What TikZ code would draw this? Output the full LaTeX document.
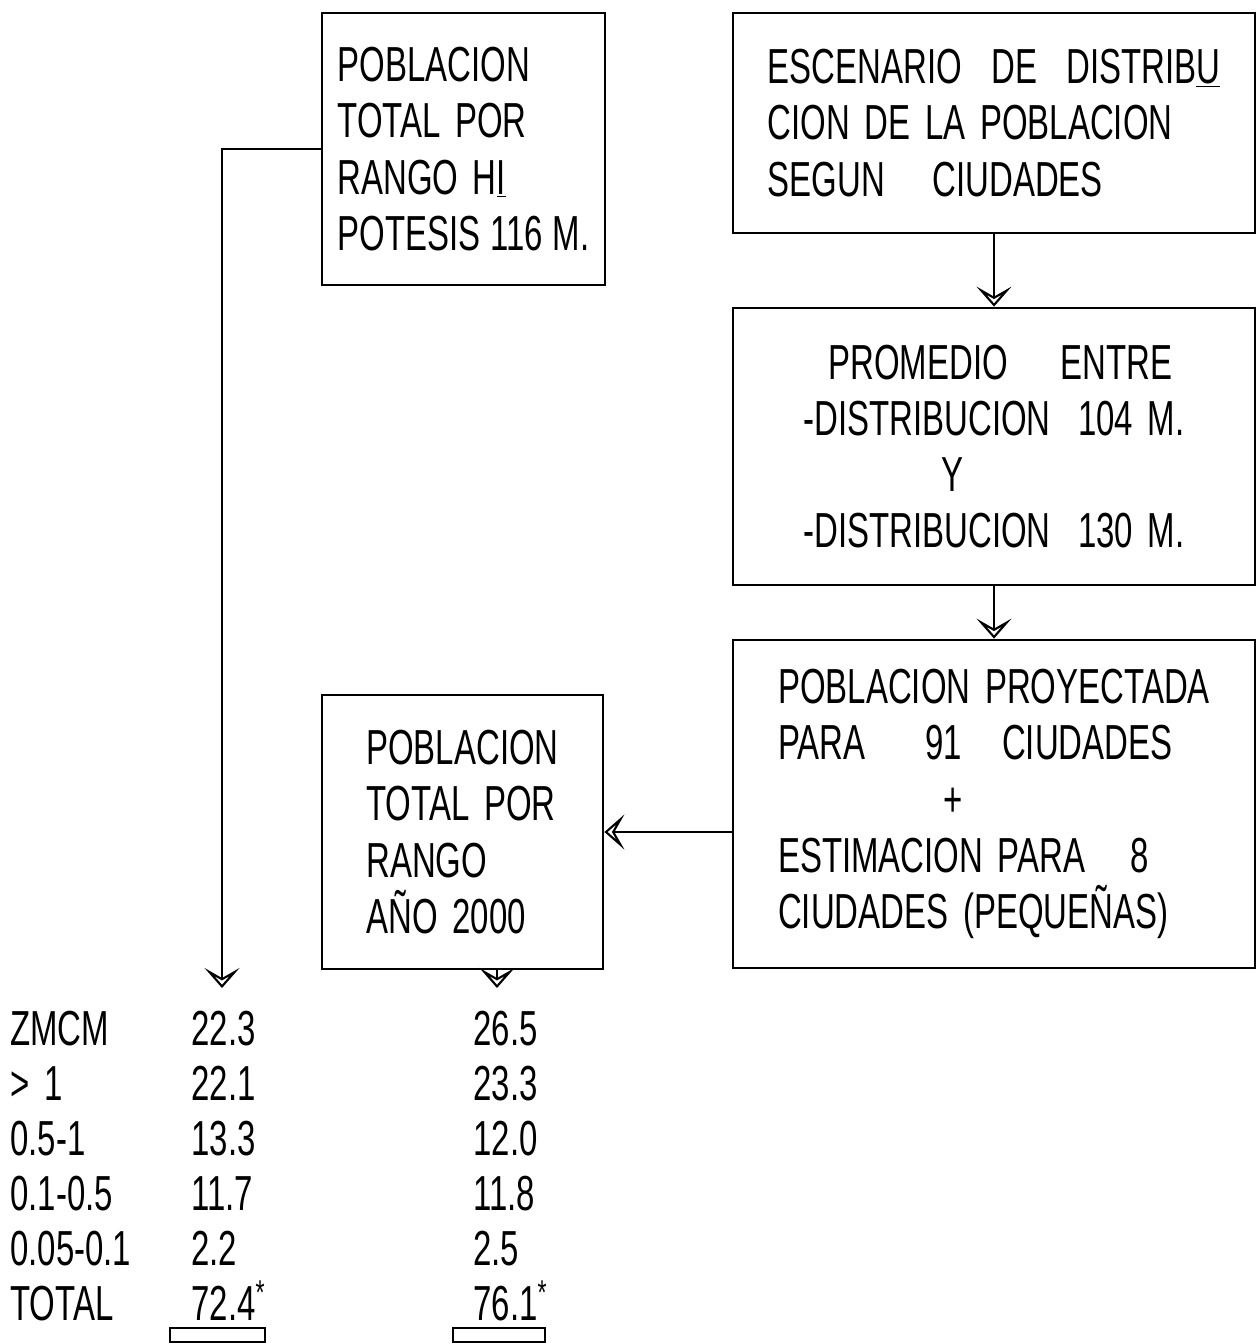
\documentclass[tikz,border=0pt]{standalone}
\usepackage{fontspec}
\setmainfont{Liberation Sans}[FakeStretch=0.67, WordSpace=1.6]
\usetikzlibrary{arrows.meta, positioning, calc}
\tikzset{
    % Boxes
    block/.style={
        rectangle,
        draw=black,
        line width=1.6pt,
        align=left,
        inner sep=0pt,
        font=\fontsize{28pt}{32pt}\selectfont
    },
    % Arrows
    flow/.style={
        -{Stealth[open, length=0.4cm, width=0.7cm, inset=0.2cm, line width=1.2pt]},
        line width=1.3pt,
        draw=black
    },
    % Table
    cell/.style={
        anchor=base west,
        inner sep=0pt,
        font=\fontsize{28pt}{32pt}\selectfont
    }
}
\begin{document}
\begin{tikzpicture}[x=0.02cm, y=-0.02cm]
    \useasboundingbox[fill=white] (0,0) rectangle (1257,1344);

    % Boxes
    \node[block, minimum width=5.66cm, minimum height=5.44cm] (hip) at (463.5,149) {POBLACION\\TOTAL POR\\RANGO H\underline{I}\\POTESIS\hspace{0.2cm}116\hspace{0.2cm}M.};
    \node[block, minimum width=10.44cm, minimum height=4.4cm] (esc) at (994,123) {ESCENARIO\ \ DE\ \ DISTRIB\underline{U}\\CION DE LA POBLACION\\SEGUN\hspace{0.95cm}CIUDADES};
    \node[block, minimum width=10.44cm, minimum height=5.54cm] (prom) at (994,446.5) {\hspace*{0.5cm}PROMEDIO\hspace{1.05cm}ENTRE\\-DISTRIBUCION\hspace{0.55cm}104 M.\\\hspace*{2.75cm}Y\\-DISTRIBUCION\hspace{0.55cm}130 M.};
    \node[block, minimum width=10.44cm, minimum height=6.56cm] (proy) at (994,804) {POBLACION PROYECTADA\\PARA\hspace{1.2cm}91\hspace{0.8cm}CIUDADES\\\hspace*{3.3cm}+\\ESTIMACION PARA\hspace{0.9cm}8\\CIUDADES (PEQUEÑAS)};
    \node[block, minimum width=5.62cm, minimum height=5.48cm] (anio) at (462.5,832) {POBLACION\\TOTAL POR\\RANGO\\AÑO 2000};

    % Arrow ends above the table
    \coordinate (hipend) at (222,988);
    \coordinate (anioend) at (497,988);

    % Arrows
    \draw[flow] (hip.west) -| (hipend);
    \draw[flow] (esc.south) -- (prom.north);
    \draw[flow] (prom.south) -- (proy.north);
    \draw[flow] (proy.west |- anio.east) -- (anio.east);
    \draw[flow] (anio.south -| anioend) -- (anioend);

    % Table
    \foreach \lab/\hval/\aval [count=\i] in {ZMCM/22.3/26.5, {> 1}/22.1/23.3, 0.5-1/13.3/12.0, 0.1-0.5/11.7/11.8, 0.05-0.1/2.2/2.5, TOTAL/{72.4\textsuperscript{*}}/{76.1\textsuperscript{*}}}{
        \node[cell] (lab\i) at (10,{1045+55*(\i-1)}) {\lab};
        \node[cell] (hv\i) at (191,{1045+55*(\i-1)}) {\hval};
        \node[cell] (av\i) at (473,{1045+55*(\i-1)}) {\aval};
    }

    % Boxes under the totals
    \draw[line width=1.4pt] (170,1328) rectangle (265,1342);
    \draw[line width=1.4pt] (453,1328) rectangle (545,1342);

\end{tikzpicture}
\end{document}
